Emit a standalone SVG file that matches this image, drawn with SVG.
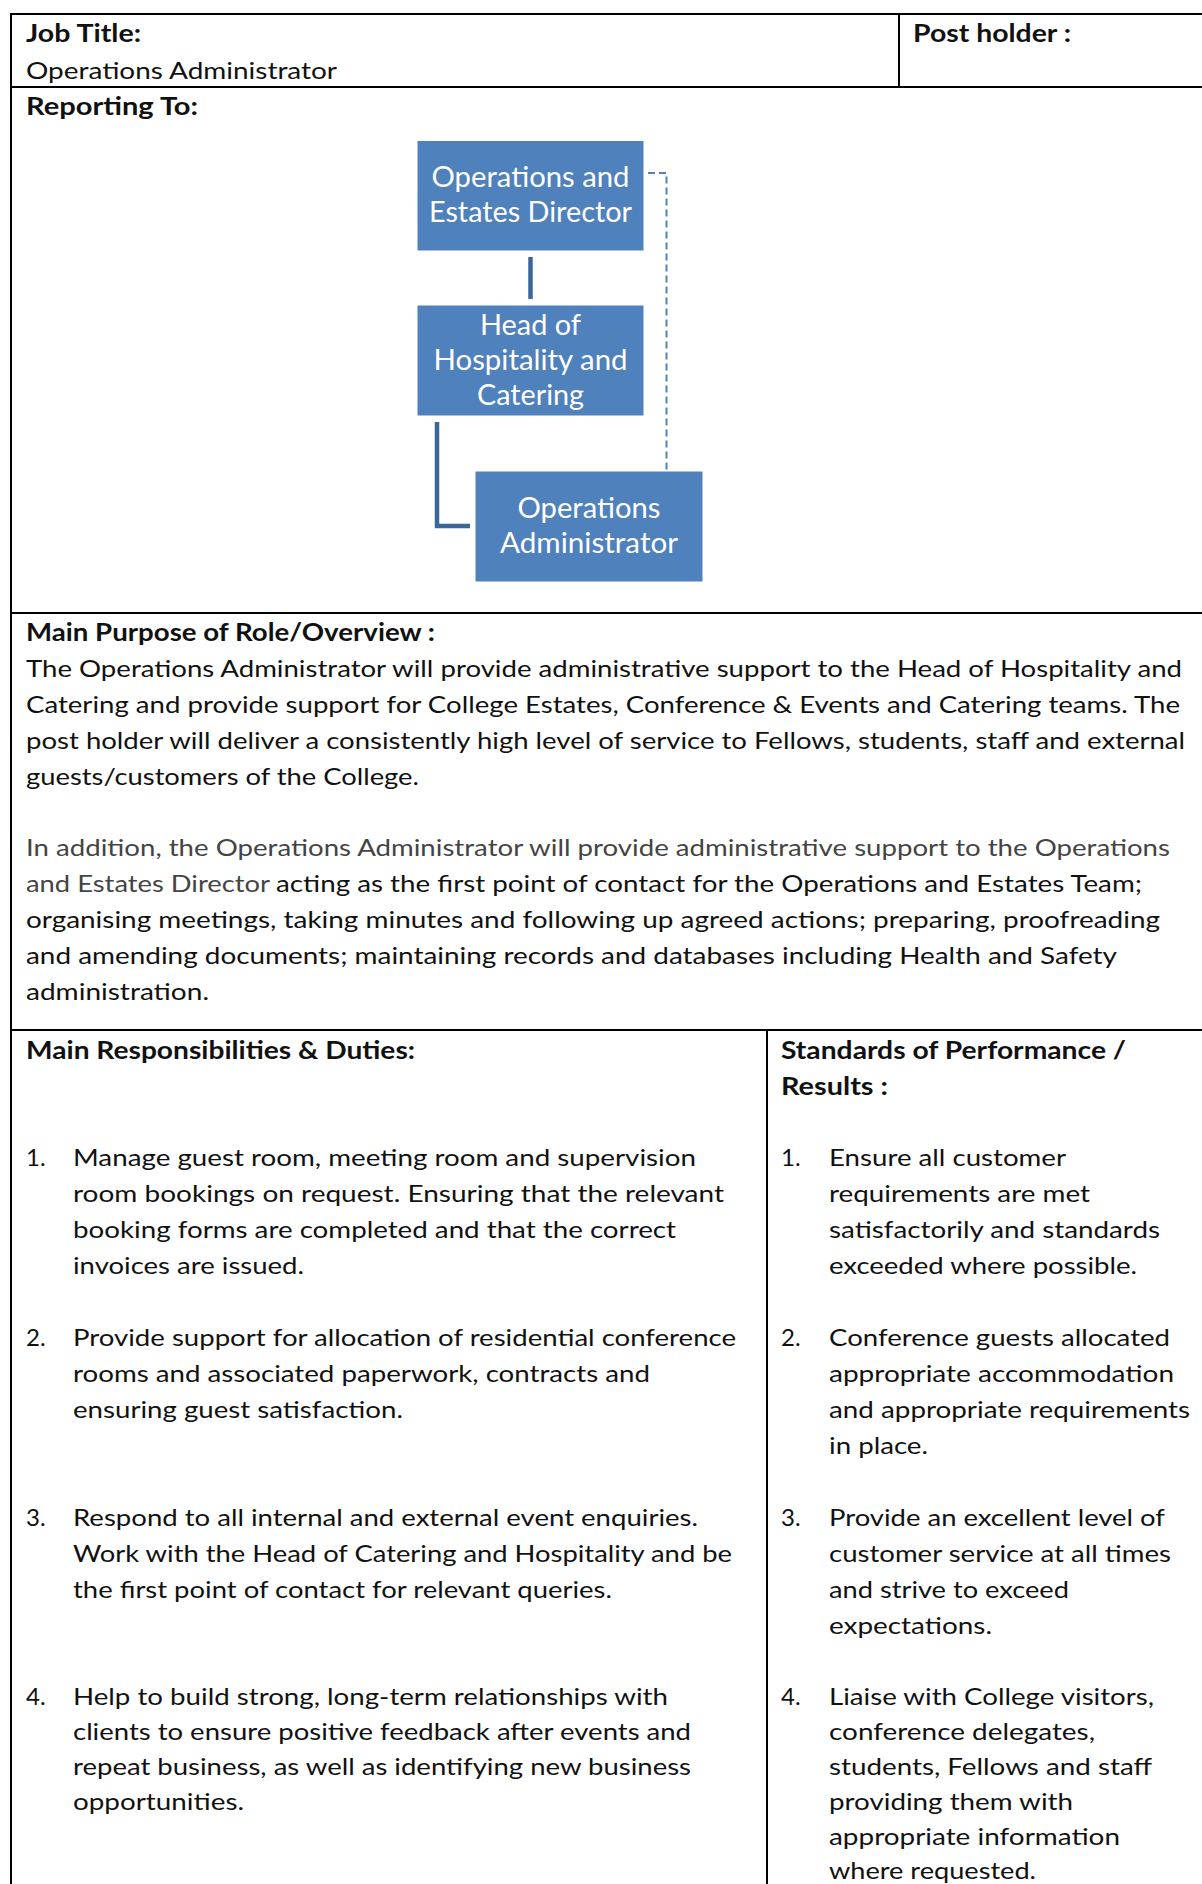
<svg xmlns="http://www.w3.org/2000/svg" width="1202" height="1884" viewBox="0 0 1202 1884">
<style>
.t{font-family:Lato,"Open Sans","Liberation Sans",sans-serif;font-size:24px;fill:#111}
.b{font-weight:bold}
.g{fill:#444}
.n{font-family:Lato,"Open Sans","Liberation Sans",sans-serif;font-size:28px;fill:#fff;text-anchor:middle}
.rule{stroke:#000;stroke-width:2;fill:none}
.box{fill:#4f81bd;stroke:#fff;stroke-width:1}
.solid{stroke:#3a669c;stroke-width:4.5;fill:none}
.dash{stroke:#4f81bd;stroke-width:2;fill:none;stroke-dasharray:7 4}
</style>
<rect x="0" y="0" width="1202" height="1884" fill="#fff"/>
<g id="table">
<line class="rule" x1="11" y1="14" x2="1202" y2="14"/>
<line class="rule" x1="11" y1="13" x2="11" y2="1884"/>
<line class="rule" x1="899" y1="14" x2="899" y2="87"/>
<line class="rule" x1="11" y1="87" x2="1202" y2="87"/>
<line class="rule" x1="11" y1="613" x2="1202" y2="613"/>
<line class="rule" x1="11" y1="1030" x2="1202" y2="1030"/>
<line class="rule" x1="767" y1="1030" x2="767" y2="1884"/>
</g>
<g id="header">
<text class="t b" x="26" y="42" textLength="115" lengthAdjust="spacingAndGlyphs">Job Title:</text>
<text class="t" x="26" y="79" textLength="311" lengthAdjust="spacingAndGlyphs">Operations Administrator</text>
<text class="t b" x="913" y="42" textLength="158" lengthAdjust="spacingAndGlyphs">Post holder :</text>
<text class="t b" x="26" y="115" textLength="172" lengthAdjust="spacingAndGlyphs">Reporting To:</text>
</g>
<g id="connectors">
<line class="solid" x1="530.5" y1="257" x2="530.5" y2="299"/>
<polyline class="solid" points="437,422 437,526 470,526"/>
<polyline class="dash" points="648,173 666.5,173 666.5,478"/>
</g>
<g id="node-director">
<rect class="box" x="417" y="140.5" width="227" height="110.5"/>
<text class="n" x="530.5" y="187" textLength="198" lengthAdjust="spacingAndGlyphs">Operations and</text>
<text class="n" x="530.5" y="222" textLength="203" lengthAdjust="spacingAndGlyphs">Estates Director</text>
</g>
<g id="node-head">
<rect class="box" x="417" y="305" width="227" height="111"/>
<text class="n" x="530.5" y="335" textLength="101" lengthAdjust="spacingAndGlyphs">Head of</text>
<text class="n" x="530.5" y="370" textLength="194" lengthAdjust="spacingAndGlyphs">Hospitality and</text>
<text class="n" x="530.5" y="405" textLength="107" lengthAdjust="spacingAndGlyphs">Catering</text>
</g>
<g id="node-admin">
<rect class="box" x="475" y="471" width="228" height="111"/>
<text class="n" x="589" y="518" textLength="143" lengthAdjust="spacingAndGlyphs">Operations</text>
<text class="n" x="589" y="553" textLength="178" lengthAdjust="spacingAndGlyphs">Administrator</text>
</g>
<g id="purpose">
<text class="t b" x="26" y="641" textLength="409" lengthAdjust="spacingAndGlyphs">Main Purpose of Role/Overview :</text>
<text class="t" x="26" y="677" textLength="1156" lengthAdjust="spacingAndGlyphs">The Operations Administrator will provide administrative support to the Head of Hospitality and</text>
<text class="t" x="26" y="713" textLength="1154" lengthAdjust="spacingAndGlyphs">Catering and provide support for College Estates, Conference &amp; Events and Catering teams. The</text>
<text class="t" x="26" y="749" textLength="1159" lengthAdjust="spacingAndGlyphs">post holder will deliver a consistently high level of service to Fellows, students, staff and external</text>
<text class="t" x="26" y="785" textLength="393" lengthAdjust="spacingAndGlyphs">guests/customers of the College.</text>
<text class="t g" x="26" y="856" textLength="1144" lengthAdjust="spacingAndGlyphs">In addition, the Operations Administrator will provide administrative support to the Operations</text>
<text class="t g" x="26" y="892" textLength="244" lengthAdjust="spacingAndGlyphs">and Estates Director</text>
<text class="t" x="276" y="892" textLength="866" lengthAdjust="spacingAndGlyphs">acting as the first point of contact for the Operations and Estates Team;</text>
<text class="t" x="26" y="928" textLength="1134" lengthAdjust="spacingAndGlyphs">organising meetings, taking minutes and following up agreed actions; preparing, proofreading</text>
<text class="t" x="26" y="964" textLength="1091" lengthAdjust="spacingAndGlyphs">and amending documents; maintaining records and databases including Health and Safety</text>
<text class="t" x="26" y="1000" textLength="183" lengthAdjust="spacingAndGlyphs">administration.</text>
</g>
<g id="duties">
<text class="t b" x="26" y="1059" textLength="389" lengthAdjust="spacingAndGlyphs">Main Responsibilities &amp; Duties:</text>
<text class="t" x="26" y="1166">1.</text>
<text class="t" x="73" y="1166" textLength="623" lengthAdjust="spacingAndGlyphs">Manage guest room, meeting room and supervision</text>
<text class="t" x="73" y="1202" textLength="651" lengthAdjust="spacingAndGlyphs">room bookings on request.  Ensuring that the relevant</text>
<text class="t" x="73" y="1238" textLength="603" lengthAdjust="spacingAndGlyphs">booking forms are completed and that the correct</text>
<text class="t" x="73" y="1274" textLength="231" lengthAdjust="spacingAndGlyphs">invoices are issued.</text>
<text class="t" x="26" y="1346">2.</text>
<text class="t" x="73" y="1346" textLength="663" lengthAdjust="spacingAndGlyphs">Provide support for allocation of residential conference</text>
<text class="t" x="73" y="1382" textLength="577" lengthAdjust="spacingAndGlyphs">rooms and associated paperwork, contracts and</text>
<text class="t" x="73" y="1418" textLength="330" lengthAdjust="spacingAndGlyphs">ensuring guest satisfaction.</text>
<text class="t" x="26" y="1526">3.</text>
<text class="t" x="73" y="1526" textLength="625" lengthAdjust="spacingAndGlyphs">Respond to all internal and external event enquiries.</text>
<text class="t" x="73" y="1562" textLength="659" lengthAdjust="spacingAndGlyphs">Work with the Head of Catering and Hospitality and be</text>
<text class="t" x="73" y="1598" textLength="539" lengthAdjust="spacingAndGlyphs">the first point of contact for relevant queries.</text>
<text class="t" x="26" y="1705">4.</text>
<text class="t" x="73" y="1705" textLength="595" lengthAdjust="spacingAndGlyphs">Help to build strong, long-term relationships with</text>
<text class="t" x="73" y="1740" textLength="618" lengthAdjust="spacingAndGlyphs">clients to ensure positive feedback after events and</text>
<text class="t" x="73" y="1775" textLength="618" lengthAdjust="spacingAndGlyphs">repeat business, as well as identifying new business</text>
<text class="t" x="73" y="1810" textLength="171" lengthAdjust="spacingAndGlyphs">opportunities.</text>
</g>
<g id="standards">
<text class="t b" x="781" y="1059" textLength="345" lengthAdjust="spacingAndGlyphs">Standards of Performance /</text>
<text class="t b" x="781" y="1095" textLength="107" lengthAdjust="spacingAndGlyphs">Results :</text>
<text class="t" x="781" y="1166">1.</text>
<text class="t" x="829" y="1166" textLength="237" lengthAdjust="spacingAndGlyphs">Ensure all customer</text>
<text class="t" x="829" y="1202" textLength="261" lengthAdjust="spacingAndGlyphs">requirements are met</text>
<text class="t" x="829" y="1238" textLength="331" lengthAdjust="spacingAndGlyphs">satisfactorily and standards</text>
<text class="t" x="829" y="1274" textLength="308" lengthAdjust="spacingAndGlyphs">exceeded where possible.</text>
<text class="t" x="781" y="1346">2.</text>
<text class="t" x="829" y="1346" textLength="341" lengthAdjust="spacingAndGlyphs">Conference guests allocated</text>
<text class="t" x="829" y="1382" textLength="345" lengthAdjust="spacingAndGlyphs">appropriate accommodation</text>
<text class="t" x="829" y="1418" textLength="361" lengthAdjust="spacingAndGlyphs">and appropriate requirements</text>
<text class="t" x="829" y="1454" textLength="99" lengthAdjust="spacingAndGlyphs">in place.</text>
<text class="t" x="781" y="1526">3.</text>
<text class="t" x="829" y="1526" textLength="336" lengthAdjust="spacingAndGlyphs">Provide an excellent level of</text>
<text class="t" x="829" y="1562" textLength="342" lengthAdjust="spacingAndGlyphs">customer service at all times</text>
<text class="t" x="829" y="1598" textLength="240" lengthAdjust="spacingAndGlyphs">and strive to exceed</text>
<text class="t" x="829" y="1634" textLength="163" lengthAdjust="spacingAndGlyphs">expectations.</text>
<text class="t" x="781" y="1705">4.</text>
<text class="t" x="829" y="1705" textLength="325" lengthAdjust="spacingAndGlyphs">Liaise with College visitors,</text>
<text class="t" x="829" y="1740" textLength="266" lengthAdjust="spacingAndGlyphs">conference delegates,</text>
<text class="t" x="829" y="1775" textLength="323" lengthAdjust="spacingAndGlyphs">students, Fellows and staff</text>
<text class="t" x="829" y="1810" textLength="244" lengthAdjust="spacingAndGlyphs">providing them with</text>
<text class="t" x="829" y="1845" textLength="291" lengthAdjust="spacingAndGlyphs">appropriate information</text>
<text class="t" x="829" y="1879" textLength="207" lengthAdjust="spacingAndGlyphs">where requested.</text>
</g>
</svg>
